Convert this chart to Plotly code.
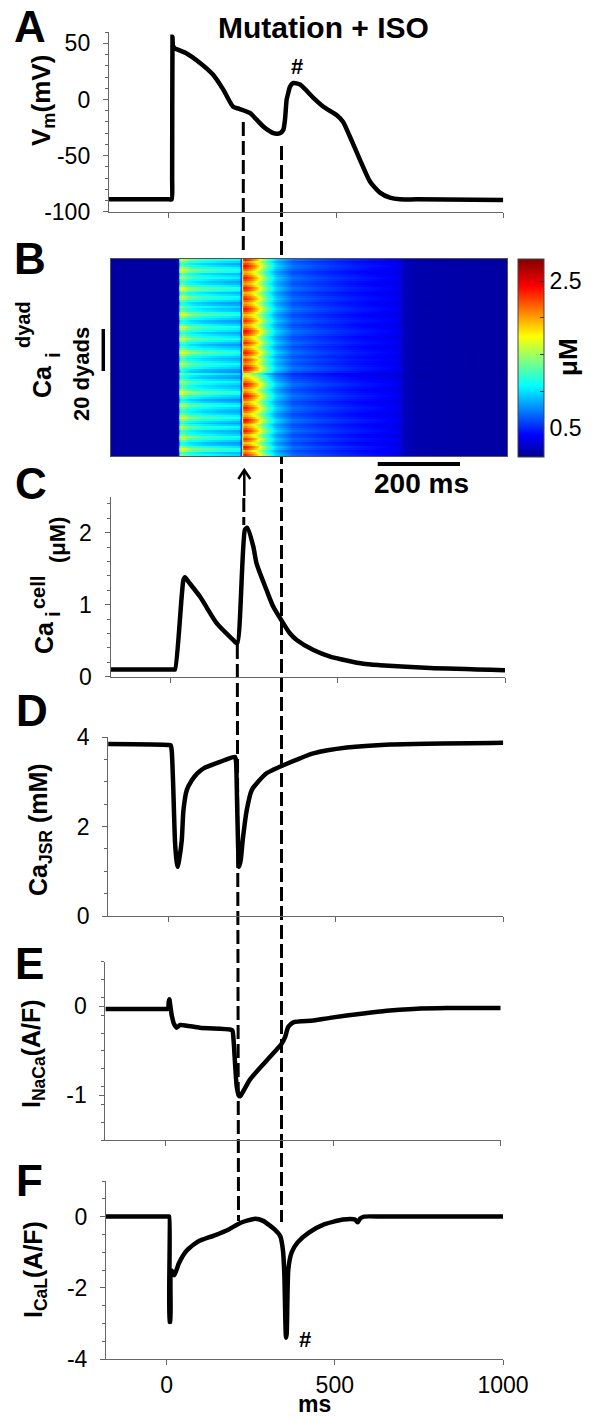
import numpy as np
import plotly.graph_objects as go

W, H = 595, 1419
FONT = "Liberation Sans, Arial, sans-serif"

# ---------------- data ----------------
# A: membrane potential (mV)
tA = [-180, 0, 8, 9.5, 10.5, 12, 18, 30, 53, 93, 132, 162, 192, 212, 242, 262, 282, 300, 312,
      325, 335, 342, 347, 352, 357, 362, 372, 392, 432, 462, 502, 521, 541, 571, 601, 631,
      661, 691, 741, 1000]
vA = [-89, -89, -89, -70, 56, 48, 45.5, 44, 41, 32.5, 22, 9, -6.5, -8.5, -12, -18, -24, -28, -30,
      -30.5, -29.5, -27, -18, 0, 6, 11.5, 14.7, 13.3, 1.5, -6.5, -14, -20, -33, -53.5, -73, -83,
      -87.5, -89, -89, -89.5]

# C: cytosolic Ca (uM)
tC = [-180, 0, 8, 13, 38, 43, 53, 88, 138, 187, 199, 222, 229, 247, 257, 287, 307, 337, 357, 377,
      427, 477, 576, 626, 776, 1000]
vC = [0.1, 0.1, 0.1, 0.1, 1.34, 1.38, 1.32, 1.11, 0.74, 0.51, 0.46, 2.04, 2.07, 1.81, 1.57, 1.2,
      0.97, 0.74, 0.6, 0.51, 0.37, 0.28, 0.18, 0.16, 0.12, 0.09]

# D: junctional SR Ca (mM)
tD = [-180, 0, 7, 10, 14, 20, 25, 28, 32, 40, 45, 55, 70, 85, 104, 154, 199, 202, 205, 208, 211,
      216, 222, 234, 249, 264, 294, 333, 393, 433, 533, 662, 1000]
vD = [3.85, 3.83, 3.82, 3.7, 3.0, 1.63, 1.2, 1.1, 1.25, 1.7, 2.37, 2.82, 3.04, 3.18, 3.3, 3.45,
      3.56, 3.45, 2.6, 1.6, 1.1, 1.25, 1.7, 2.37, 2.82, 2.97, 3.2, 3.34, 3.53, 3.64, 3.77, 3.84, 3.88]

# E: I_NaCa (A/F)
tE = [-180, 0, 7, 9, 11, 14, 18, 25, 33, 43, 102, 192, 199, 203, 207, 212, 218, 222, 232, 252,
      301, 346, 356, 366, 381, 441, 490, 590, 660, 739, 838, 1000]
vE = [-0.03, -0.03, -0.03, 0.05, 0.08, 0.0, -0.1, -0.2, -0.24, -0.21, -0.24, -0.26, -0.27, -0.4,
      -0.64, -0.9, -1.0, -1.01, -0.95, -0.82, -0.61, -0.42, -0.35, -0.23, -0.18, -0.16, -0.13,
      -0.08, -0.05, -0.03, -0.02, -0.02]

# F: I_CaL (A/F)
tF = [-180, 0, 6, 8, 9, 11, 13, 18, 23, 37, 60, 94, 139, 185, 219, 264, 287, 321, 338, 346, 350,
      355, 357, 362, 372, 389, 423, 468, 525, 559, 568, 576, 587, 650, 1000]
vF = [0, 0, 0, 0, -2.96, -2.96, -1.5, -1.55, -1.65, -1.3, -0.95, -0.7, -0.54, -0.36, -0.18,
      -0.06, -0.12, -0.36, -0.55, -0.95, -1.6, -3.4, -3.3, -1.47, -1.0, -0.73, -0.45, -0.22,
      -0.08, -0.08, -0.16, -0.05, 0, 0, 0]

# B: dyadic Ca heat map (uM): mean time profile + per-dyad release intensities
prof_t = [-200, 4, 8, 11, 20, 40, 80, 130, 180, 191, 193, 196, 199, 205, 225, 240, 255, 275,
          300, 350, 430, 500, 560, 640, 670, 690, 720, 1000]
prof_v = [0.15, 0.15, 0.9, 1.4, 1.3, 1.15, 1.05, 0.98, 0.93, 0.92, 0.55, 0.55, 1.95, 2.2,
          2.0, 1.8, 1.55, 1.2, 0.9, 0.65, 0.55, 0.48, 0.43, 0.38, 0.34, 0.22, 0.18, 0.15]
dyad_r1 = [1.05, 0.95, 1.20, 1.30, 1.10, 0.90, 0.85, 1.00, 1.15, 1.25,
           1.05, 0.95, 0.90, 1.10, 1.20, 1.00, 0.85, 0.95, 1.10, 1.30,
           1.15, 1.00, 0.90, 0.95, 1.05, 1.20, 1.10, 0.90, 0.80, 0.95,
           1.05, 1.25, 1.30, 1.10, 1.00, 0.95, 1.05, 1.15, 1.00, 0.85,
           0.90, 1.05, 0.80, 0.85, 1.00, 1.10, 1.20, 1.05, 0.95, 0.90,
           1.00, 1.15, 1.30, 1.20, 1.05, 0.95, 0.85, 0.95, 1.10, 1.25,
           1.10, 1.00, 0.90, 1.05, 1.15, 1.25, 1.05, 0.90, 0.85, 1.00,
           1.10, 1.30, 1.20, 1.00, 0.95, 1.05, 0.90, 0.85, 1.00, 1.15,
           1.20, 1.05, 0.95, 1.10, 1.25, 1.30, 1.10, 0.95, 0.90, 1.00,
           1.15, 1.05, 0.95, 1.20, 1.30, 1.15, 1.00, 0.90, 1.05, 1.20]
dyad_r2 = [1.08, 1.00, 0.92, 1.05, 1.10, 0.95, 0.88, 1.00, 1.06, 0.94,
           0.90, 1.02, 1.10, 1.04, 0.96, 0.90, 0.98, 1.08, 1.12, 1.00,
           0.92, 0.88, 0.97, 1.05, 1.10, 1.02, 0.94, 0.90, 1.00, 1.06,
           1.12, 1.04, 0.95, 0.90, 0.98, 1.07, 1.10, 1.00, 0.93, 0.88,
           0.82, 0.70, 0.96, 1.08, 1.12, 1.04, 0.95, 1.00, 1.06, 0.98,
           0.92, 1.03, 1.10, 1.05, 0.96, 0.90, 0.99, 1.08, 1.00, 0.94,
           0.90, 1.02, 1.09, 1.12, 1.03, 0.95, 0.91, 1.00, 1.07, 1.02,
           0.94, 0.89, 0.97, 1.06, 1.11, 1.04, 0.96, 0.92, 1.01, 1.08,
           1.03, 0.95, 0.90, 0.98, 1.06, 1.10, 1.00, 0.93, 0.97, 1.05,
           1.10, 1.02, 0.94, 0.90, 1.00, 1.07, 1.12, 1.05, 0.96, 1.10]

cb_tickvals = [0.5, 1.0, 1.5, 2.0, 2.5]
cb_ticktext = ["0.5", "", "", "", "2.5"]
x_tickvals = [0, 500, 1000]
x_ticktext = ["0", "500", "1000"]

# ---------------- helpers ----------------
def X(p):
    return p / W


def Y(p):
    return 1 - p / H


ht = np.arange(-200, 1001, 2.0)
prof = np.interp(ht, prof_t, prof_v)
r1 = np.array(dyad_r1)[:, None]
r2 = np.array(dyad_r2)[:, None]
fac = np.where(ht[None, :] < 196, r1, r2)
Z = 0.15 + (prof[None, :] - 0.15) * fac

jet = [[0.0, "rgb(0,0,143)"], [0.11, "rgb(0,0,255)"], [0.36, "rgb(0,255,255)"],
       [0.61, "rgb(255,255,0)"], [0.86, "rgb(255,0,0)"], [1.0, "rgb(128,0,0)"]]

AX = "#666666"
tickfont = dict(family=FONT, size=23, color="black")

fig = go.Figure()

panels = [
    ("A", tA, vA, 108.8, 503.3, 211.7, 32.2, [-100, 60], [-100, -50, 0, 50], ["-100", "-50", "0", "50"], 10),
    ("C", tC, vC, 110.5, 505.0, 676.7, 496.7, [0, 2.5], [0, 1, 2], ["0", "1", "2"], 0.2),
    ("D", tD, vD, 108.1, 503.3, 916.0, 737.3, [0, 4], [0, 2, 4], ["0", "2", "4"], 0.5),
    ("E", tE, vE, 105.4, 500.7, 1140.0, 961.7, [-1.5, 0.5], [-1, 0], ["-1", "0"], 0.2),
    ("F", tF, vF, 106.0, 503.0, 1359.0, 1181.0, [-4, 1], [-4, -2, 0], ["-4", "-2", "0"], 0.5),
]
axis_ids = {"A": 1, "C": 3, "D": 4, "E": 5, "F": 6}

layout = dict(width=W, height=H, margin=dict(l=0, r=0, t=0, b=0, pad=0, autoexpand=False),
              paper_bgcolor="white", plot_bgcolor="white", showlegend=False,
              font=dict(family=FONT, color="black"))

for name, t, v, xl, xr, yb, yt, rng, tv, tt, mnr in panels:
    i = axis_ids[name]
    xa = "xaxis" if i == 1 else f"xaxis{i}"
    ya = "yaxis" if i == 1 else f"yaxis{i}"
    xs = "x" if i == 1 else f"x{i}"
    ys = "y" if i == 1 else f"y{i}"
    fig.add_trace(go.Scatter(x=t, y=v, mode="lines", xaxis=xs, yaxis=ys,
                             line=dict(color="black", width=4.5, shape="spline", smoothing=0.6),
                             hoverinfo="skip"))
    layout[xa] = dict(domain=[X(xl), X(xr)], range=[-180, 1000], anchor=ys, automargin=False,
                      showline=True, linecolor=AX, linewidth=1, ticks="outside", ticklen=5,
                      tickcolor=AX, tickvals=x_tickvals, ticktext=x_ticktext,
                      showticklabels=(name == "F"), showgrid=False, zeroline=False,
                      tickfont=tickfont, ticklabelstandoff=0)
    layout[ya] = dict(domain=[Y(yb), Y(yt)], range=rng, anchor=xs, automargin=False,
                      showline=True, linecolor=AX, linewidth=1, ticks="outside", ticklen=5,
                      tickcolor=AX, tickvals=tv, ticktext=tt, showgrid=False, zeroline=False,
                      tickfont=tickfont, ticklabelstandoff=8,
                      minor=dict(dtick=mnr, tick0=rng[0], ticks="outside", ticklen=3,
                                 tickcolor=AX, showgrid=False))

fig.add_trace(go.Heatmap(x=ht, y=list(range(len(dyad_r1))), z=Z, colorscale=jet,
                         zmin=0.1, zmax=2.8, xaxis="x2", yaxis="y2", hoverinfo="skip",
                         colorbar=dict(x=X(518.3), xanchor="left", y=Y(457), yanchor="bottom",
                                       len=(457 - 259) / H, lenmode="fraction",
                                       thickness=26, thicknessmode="pixels",
                                       xpad=0, ypad=0, outlinewidth=1, outlinecolor="#444",
                                       tickvals=cb_tickvals, ticktext=cb_ticktext,
                                       ticks="inside", ticklen=4, tickcolor="#333",
                                       tickfont=tickfont)))
layout["xaxis2"] = dict(domain=[X(111), X(507.3)], range=[-200, 1000], anchor="y2", automargin=False,
                        showline=True, mirror=True, linecolor="#555", linewidth=1,
                        showticklabels=False, ticks="", showgrid=False, zeroline=False)
layout["yaxis2"] = dict(domain=[Y(456), Y(259)], range=[-0.5, len(dyad_r1) - 0.5], anchor="x2",
                        automargin=False, showline=True, mirror=True, linecolor="#555", linewidth=1,
                        showticklabels=False, ticks="", showgrid=False, zeroline=False)

# ---------------- decorations (pixel positions) ----------------
shapes = []


def seg(x0, y0, x1, y1, width=3, dash="14px,5px", layer="below"):
    shapes.append(dict(type="line", xref="paper", yref="paper", x0=X(x0), y0=Y(y0),
                       x1=X(x1), y1=Y(y1), line=dict(color="black", width=width, dash=dash),
                       layer=layer))


seg(243.3, 122, 243.3, 252)
seg(243.8, 498, 243.8, 525)
seg(244.3, 471, 244.3, 496, width=2.5, dash="solid", layer="above")
shapes.append(dict(type="path", xref="paper", yref="paper",
                   path=f"M {X(238.3)},{Y(479)} L {X(244.3)},{Y(470)} L {X(250.3)},{Y(479)}",
                   line=dict(color="black", width=2.5)))
seg(237.3, 645, 238.5, 1221)
seg(281.5, 146, 281.5, 1222)
seg(377.7, 464, 460, 464, width=4, dash="solid", layer="above")
seg(103.3, 329, 103.3, 371, width=3.5, dash="solid", layer="above")

ann = []


def txt(x, y, s, size, bold=True, angle=0, xa="center", ya="middle"):
    ann.append(dict(x=X(x), y=Y(y), xref="paper", yref="paper", text=(f"<b>{s}</b>" if bold else s),
                    showarrow=False, textangle=angle, xanchor=xa, yanchor=ya,
                    font=dict(family=FONT, size=size, color="black")))


for L, (lx, ly) in {"A": (30, 26), "B": (30, 258), "C": (31, 484), "D": (32, 710),
                    "E": (29, 963), "F": (29, 1180)}.items():
    txt(lx, ly, L, 44)

txt(323, 28, "Mutation + ISO", 30)
txt(43, 101, "V<sub>m</sub>(mV)", 26, angle=-90)
txt(42, 382, "Ca", 25, angle=-90)
txt(23, 325, "dyad", 20, angle=-90)
txt(53, 355, "i", 20, angle=-90)
txt(81, 374, "20 dyads", 22, angle=-90)
txt(44, 638, "Ca", 25, angle=-90)
txt(38, 593, "cell", 20, angle=-90)
txt(53, 614, "i", 20, angle=-90)
txt(57, 540, "(μM)", 22, angle=-90)
txt(40, 830, "Ca<sub>JSR</sub> (mM)", 25, angle=-90)
txt(33, 1054, "I<sub>NaCa</sub>(A/F)", 25, angle=-90)
txt(35, 1270, "I<sub>CaL</sub>(A/F)", 25, angle=-90)
txt(568, 357, "μM", 26, angle=-90)
txt(421, 484, "200 ms", 28)
txt(314, 1419, "ms", 23, ya="bottom")
ann.append(dict(x=382, y=29.5, xref="x", yref="y", text="<b>#</b>", showarrow=False,
                font=dict(family=FONT, size=22, color="black")))
ann.append(dict(x=411, y=-3.45, xref="x6", yref="y6", text="<b>#</b>", showarrow=False,
                font=dict(family=FONT, size=22, color="black")))

layout["shapes"] = shapes
layout["annotations"] = ann
fig.update_layout(**layout)
fig.write_html("out.html", config={"displayModeBar": False},
               post_script="document.body.style.margin='0px';document.body.style.overflow='hidden';")
